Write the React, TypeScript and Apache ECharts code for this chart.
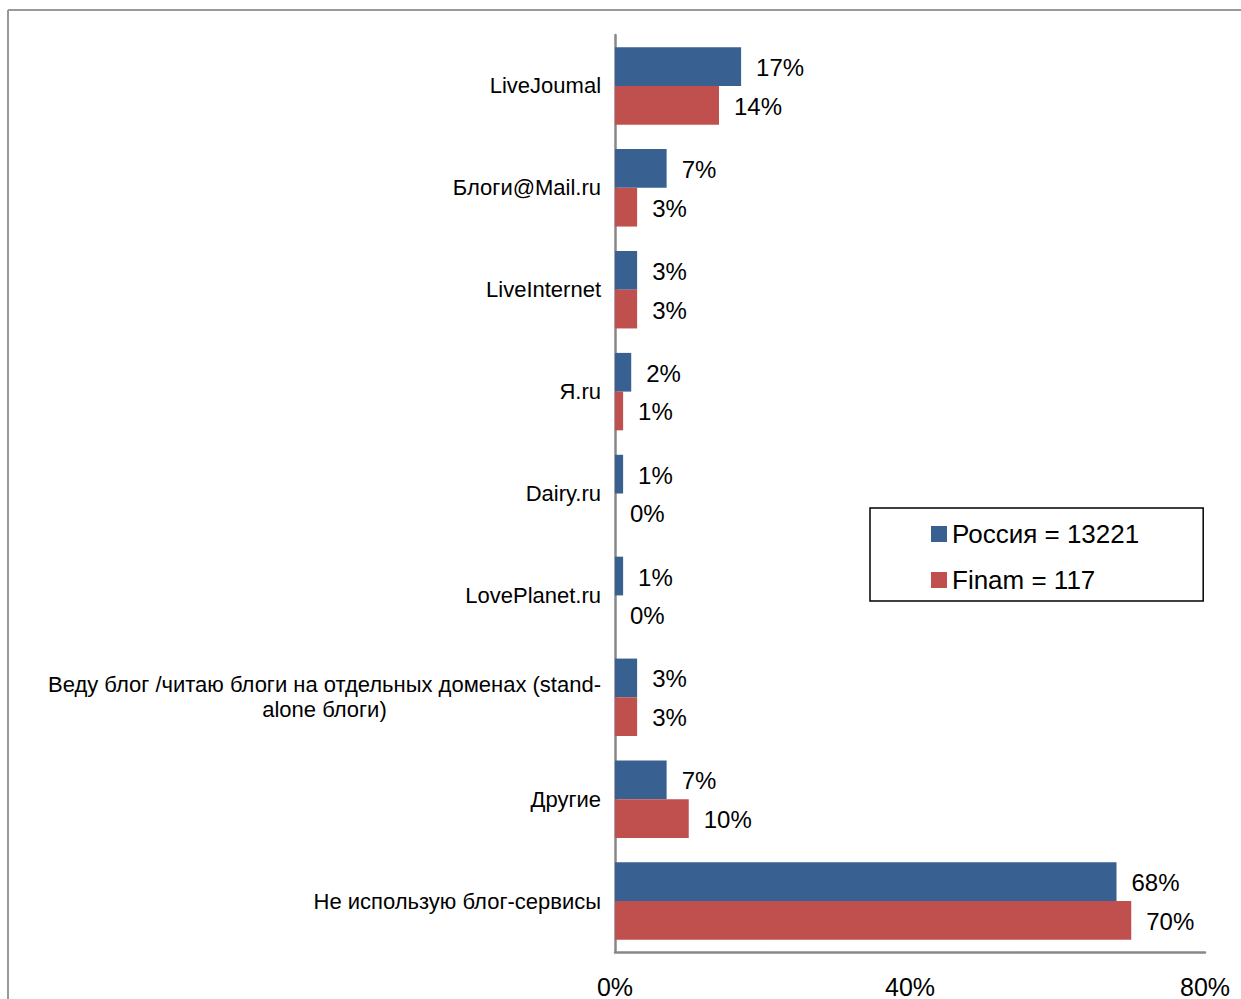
import React, { useEffect, useRef } from "react";
import * as echarts from "echarts";

const categories = [
  "LiveJoumal",
  "Блоги@Mail.ru",
  "LiveInternet",
  "Я.ru",
  "Dairy.ru",
  "LovePlanet.ru",
  "Веду блог /читаю блоги на отдельных доменах (stand-\nalone блоги)",
  "Другие",
  "Не использую блог-сервисы",
];
const russiaValues = [17.1, 7.0, 3.0, 2.2, 1.1, 1.1, 3.0, 7.0, 68.0];
const finamValues = [14.1, 3.0, 3.0, 1.1, 0.0, 0.0, 3.0, 10.0, 70.0];
const seriesNames = ["Россия = 13221", "Finam = 117"];
const xTicks = { min: 0, max: 80, interval: 40 };

const FONT = "'Liberation Sans', Arial, sans-serif";

export default function App() {
  const ref = useRef<HTMLDivElement>(null);
  useEffect(() => {
    if (!ref.current) return;
    const chart = echarts.init(ref.current, undefined, { renderer: "svg" });
    const label = {
      show: true,
      position: "right",
      distance: 15,
      fontSize: 24,
      color: "#000",
      fontFamily: FONT,
      offset: [0, 1],
      formatter: (p: any) => Math.round(p.value) + "%",
    };
    chart.setOption({
      animation: false,
      backgroundColor: "#fff",
      textStyle: { fontFamily: FONT },
      grid: { left: 615, right: 36, top: 35, bottom: 46, containLabel: false },
      legend: {
        orient: "vertical",
        left: 870,
        top: 508,
        icon: "rect",
        itemWidth: 16,
        itemHeight: 16,
        itemGap: 20,
        borderColor: "#000",
        borderWidth: 1.5,
        padding: [13, 64, 8, 61],
        textStyle: { fontSize: 26, color: "#000", fontFamily: FONT },
        data: seriesNames,
      },
      xAxis: {
        type: "value",
        min: xTicks.min,
        max: xTicks.max,
        interval: xTicks.interval,
        splitLine: { show: false },
        axisTick: { show: false },
        axisLine: { show: true, lineStyle: { color: "#888", width: 2.5 } },
        axisLabel: {
          fontSize: 25,
          color: "#000",
          fontFamily: FONT,
          margin: 22,
          formatter: "{value}%",
        },
      },
      yAxis: {
        type: "category",
        inverse: true,
        data: categories,
        axisTick: { show: false },
        axisLine: { show: true, lineStyle: { color: "#888", width: 2.5 } },
        axisLabel: {
          margin: 14,
          fontSize: 22,
          color: "#000",
          fontFamily: FONT,
          lineHeight: 25,
          formatter: (v: string) =>
            v
              .split("\n")
              .map((s) => "{c|" + s + "}")
              .join("\n"),
          rich: {
            c: { align: "center", fontSize: 22, lineHeight: 25, color: "#000", fontFamily: FONT },
          },
        },
      },
      graphic: [
        { type: "line", shape: { x1: 8, y1: 10, x2: 1241, y2: 10 }, style: { stroke: "#999", lineWidth: 2 } },
        { type: "line", shape: { x1: 8, y1: 10, x2: 8, y2: 999 }, style: { stroke: "#999", lineWidth: 2 } },
      ],
      series: [
        {
          name: seriesNames[0],
          type: "bar",
          data: russiaValues,
          barGap: "0%",
          barCategoryGap: "24%",
          itemStyle: { color: "#386192" },
          label,
        },
        {
          name: seriesNames[1],
          type: "bar",
          data: finamValues,
          barGap: "0%",
          barCategoryGap: "24%",
          itemStyle: { color: "#C0504D" },
          label,
        },
      ],
    });
    return () => chart.dispose();
  }, []);
  return (
    <div
      ref={ref}
      style={{ position: "fixed", left: 0, top: 0, width: 1241, height: 999 }}
    />
  );
}
